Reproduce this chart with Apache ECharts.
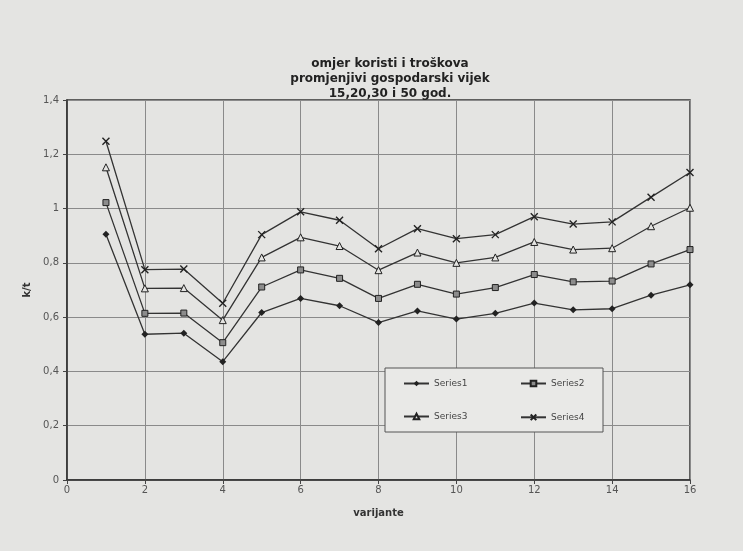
<!DOCTYPE html>
<html lang="hr">
<head>
    <meta charset="UTF-8">
    <title>omjer koristi i troškova</title>
    <script type="text/javascript" src="https://cdn.jsdelivr.net/npm/echarts@6/dist/echarts.min.js"></script>
    <style>
        html, body { margin: 0; padding: 0; background: #e4e4e2; }
    </style>
</head>
<body>
<div id="main" style="width: 743px;height:551px;"></div>

<script>
    // varijante 1..16
    var varijante = [1, 2, 3, 4, 5, 6, 7, 8, 9, 10, 11, 12, 13, 14, 15, 16];
    var series1 = [0.905, 0.537, 0.541, 0.436, 0.617, 0.669, 0.642, 0.580, 0.623, 0.593, 0.614, 0.652, 0.627, 0.631, 0.681, 0.719];
    var series2 = [1.022, 0.614, 0.615, 0.506, 0.711, 0.774, 0.743, 0.669, 0.721, 0.685, 0.709, 0.757, 0.730, 0.733, 0.796, 0.849];
    var series3 = [1.152, 0.706, 0.707, 0.589, 0.820, 0.894, 0.862, 0.773, 0.838, 0.800, 0.820, 0.877, 0.849, 0.854, 0.935, 1.003];
    var series4 = [1.248, 0.775, 0.777, 0.651, 0.904, 0.988, 0.957, 0.852, 0.926, 0.889, 0.904, 0.970, 0.943, 0.951, 1.042, 1.133];
    var xTicks = [0, 16, 2];
    var yTicks = [0, 1.4, 0.2];

    function pairs(vals) {
        return vals.map(function (v, i) { return [varijante[i], v]; });
    }

    var lineCol = '#333';
    var font = 'DejaVu Sans';

    // dvije kolone legende
    function legendCol(names, left) {
        return {
            data: names,
            orient: 'vertical',
            left: left,
            top: 379,
            padding: 0,
            itemGap: 24,
            itemWidth: 25,
            itemHeight: 7,
            textStyle: { fontSize: 9, color: '#444', fontFamily: font }
        };
    }

    var myChart = echarts.init(document.getElementById('main'));
    myChart.setOption({
        backgroundColor: '#e4e4e2',
        animation: false,
        textStyle: { fontFamily: font },
        title: {
            text: 'omjer koristi i troškova\npromjenjivi gospodarski vijek\n15,20,30 i 50 god.',
            left: 385,
            top: 51,
            textAlign: 'center',
            textStyle: { fontSize: 12, fontWeight: 'bold', color: '#222', lineHeight: 15, fontFamily: font }
        },
        graphic: [{
            type: 'rect',
            z: 3,
            shape: { x: 385, y: 368, width: 218, height: 64 },
            style: { fill: '#e9e9e7', stroke: '#555', lineWidth: 1 }
        }],
        legend: [
            legendCol(['Series1', 'Series3'], 403),
            legendCol(['Series2', 'Series4'], 520)
        ],
        grid: {
            left: 67, right: 53, top: 100, bottom: 71,
            show: true, borderColor: '#333', borderWidth: 1.5
        },
        xAxis: {
            type: 'value',
            min: xTicks[0], max: xTicks[1], interval: xTicks[2],
            name: 'varijante',
            nameLocation: 'middle',
            nameGap: 28,
            nameTextStyle: { fontSize: 10, fontWeight: 'bold', color: '#333' },
            axisLine: { lineStyle: { color: '#333', width: 1.5 } },
            axisTick: { show: true, length: 4, lineStyle: { color: '#444' } },
            axisLabel: { fontSize: 10, color: '#555', margin: 5 },
            splitLine: { show: true, lineStyle: { color: '#8a8a8a', width: 1 } }
        },
        yAxis: {
            type: 'value',
            min: yTicks[0], max: yTicks[1], interval: yTicks[2],
            name: 'k/t',
            nameLocation: 'middle',
            nameGap: 17,
            nameTextStyle: { fontSize: 10, fontWeight: 'bold', color: '#333' },
            axisLine: { show: true, lineStyle: { color: '#333', width: 1.5 } },
            axisTick: { show: true, length: 4, lineStyle: { color: '#444' } },
            axisLabel: {
                fontSize: 10, color: '#555', margin: 8,
                formatter: function (v) { return String(+v.toFixed(1)).replace('.', ','); }
            },
            splitLine: { show: true, lineStyle: { color: '#8a8a8a', width: 1 } }
        },
        series: [{
            name: 'Series1',
            type: 'line',
            data: pairs(series1),
            symbol: 'diamond',
            symbolSize: 7,
            lineStyle: { color: lineCol, width: 1.3 },
            itemStyle: { color: '#222', borderColor: '#222', borderWidth: 0 }
        }, {
            name: 'Series2',
            type: 'line',
            data: pairs(series2),
            symbol: 'rect',
            symbolSize: 6,
            lineStyle: { color: lineCol, width: 1.3 },
            itemStyle: { color: '#8c8c8c', borderColor: '#222', borderWidth: 1 }
        }, {
            name: 'Series3',
            type: 'line',
            data: pairs(series3),
            symbol: 'triangle',
            symbolSize: 7,
            lineStyle: { color: lineCol, width: 1.3 },
            itemStyle: { color: '#e4e4e2', borderColor: '#222', borderWidth: 1 }
        }, {
            name: 'Series4',
            type: 'line',
            data: pairs(series4),
            symbol: 'path://M0,0L10,10M10,0L0,10',
            symbolSize: 7,
            lineStyle: { color: lineCol, width: 1.3 },
            itemStyle: { color: 'none', borderColor: '#222', borderWidth: 1.4 }
        }]
    });
</script>

</body>
</html>
